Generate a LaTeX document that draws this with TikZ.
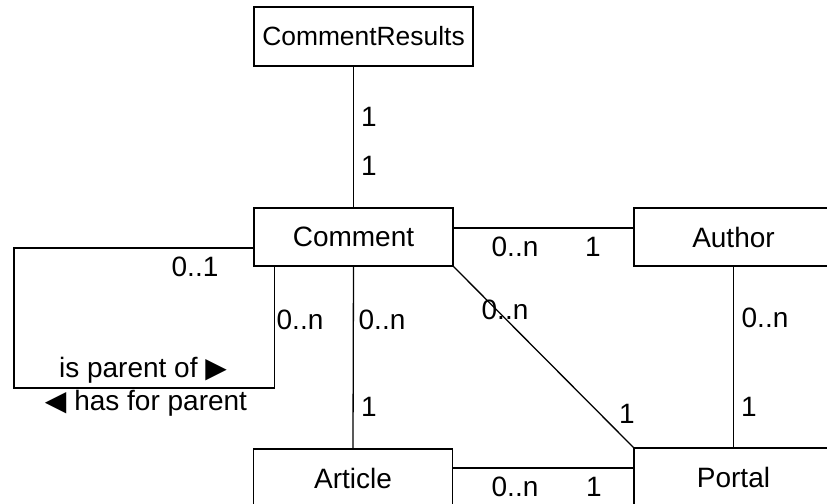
\documentclass[tikz,border=0pt]{standalone}
\usepackage{fontspec}
\setmainfont{Liberation Sans}
\newfontfamily\symfont{DejaVu Sans}
\usetikzlibrary{positioning,calc}

\begin{document}
\begin{tikzpicture}[x=0.5pt,y=-0.5pt,line width=0.65pt,
    entity/.style={draw,rectangle,inner sep=0pt,minimum width=99.5pt,minimum height=29pt,font=\fontsize{14}{16}\selectfont},
    mult/.style={inner sep=0pt,font=\fontsize{14}{16}\selectfont}]
    \useasboundingbox (0,0) rectangle (827,504);
    \clip (0,0) rectangle (827,504);
    % entities
    \node[entity,minimum width=109.5pt,minimum height=29.5pt,font=\fontsize{13.2}{16}\selectfont] (results) at (363.5,36.5) {CommentResults};
    \node[entity] (comment) at (353.5,237) {Comment};
    \node[entity] (author) at (733.5,237) {Author};
    \node[entity] (article) at (353,478) {Article};
    \node[entity] (portal) at (733.5,477) {Portal};
    \coordinate (loop) at (14,388);
    % associations
    \draw (comment.north) -- (comment.north |- results.south);
    \draw ([yshift=4.5pt]comment.east) -- ([yshift=4.5pt]comment.east -| author.west);
    \draw (comment.south east) -- (portal.north west);
    \draw (comment.south) -- (article.north);
    \draw (author.south) -- (author.south |- portal.north);
    \draw ([yshift=5pt]article.east) -- ([yshift=5pt]article.east -| portal.west);
    \draw ([yshift=-5.5pt]comment.west) -| (loop) -| ([xshift=10.5pt]comment.south west);
    % multiplicities
    \node[mult] (m1) at (369,117) {1};
    \node[mult] (m2) at (369,166) {1};
    \node[mult] (m3) at (515,247) {0..n};
    \node[mult] (m4) at (593,247) {1};
    \node[mult] (m5) at (505,310) {0..n};
    \node[mult] (m6) at (627,414) {1};
    \node[mult] (m7) at (765,318) {0..n};
    \node[mult] (m8) at (749,407) {1};
    \node[mult] (m9) at (382,320) {0..n};
    \node[mult] (m10) at (369,407) {1};
    \node[mult] (m11) at (515,487) {0..n};
    \node[mult] (m12) at (594,487) {1};
    \node[mult] (m13) at (300,320) {0..n};
    \node[mult] (m14) at (195,267) {0..1};
    \node[mult] (role1) at (143,370) {is parent of {\symfont ▶}};
    \node[mult] (role2) at (146,403) {{\symfont ◀} has for parent};
\end{tikzpicture}
\end{document}
